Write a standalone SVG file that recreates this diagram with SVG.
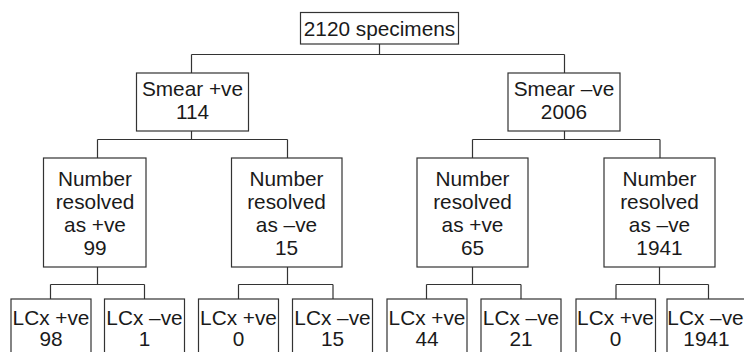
<svg xmlns="http://www.w3.org/2000/svg" width="744" height="352" viewBox="0 0 744 352">
<style>
.b{fill:#fff;stroke:#333;stroke-width:1.2}
.t{font-family:"Liberation Sans",Arial,sans-serif;font-size:20.8px;fill:#1a1a1a;text-anchor:middle}
.c{fill:none;stroke:#333;stroke-width:1.2}
</style>
<rect width="744" height="352" fill="#fff"/>
<g id="connectors" class="c">
<path d="M379.5 44V54.5M191.5 54.5H564.5M191.5 54.5V73M564.5 54.5V73"/>
<path d="M191.5 131V139.5M97.5 139.5H287.5M97.5 139.5V158M287.5 139.5V158"/>
<path d="M564.5 131V139.5M472.5 139.5H660M472.5 139.5V158M660 139.5V158"/>
<path d="M97.5 267V284.5M50.5 284.5H144.5M50.5 284.5V299M144.5 284.5V299"/>
<path d="M287.5 267V284.5M238.5 284.5H333M238.5 284.5V299M333 284.5V299"/>
<path d="M472.5 267V284.5M426.5 284.5H521M426.5 284.5V299M521 284.5V299"/>
<path d="M659.5 267V284.5M616 284.5H708.5M616 284.5V299M708.5 284.5V299"/>
</g>
<g id="root"><rect class="b" x="300.5" y="12.5" width="158" height="31.5"/><text class="t" x="379.5" y="36">2120 specimens</text></g>
<g id="smear-pos"><rect class="b" x="136.5" y="73" width="112" height="58"/><text class="t" x="192.5" y="96">Smear +ve</text><text class="t" x="192.5" y="119">114</text></g>
<g id="smear-neg"><rect class="b" x="508" y="73" width="112" height="58"/><text class="t" x="564" y="96">Smear –ve</text><text class="t" x="564" y="119">2006</text></g>
<g id="res1"><rect class="b" x="43.5" y="158" width="102.5" height="109"/><text class="t" x="95" y="186">Number</text><text class="t" x="95" y="209">resolved</text><text class="t" x="95" y="232">as +ve</text><text class="t" x="95" y="255">99</text></g>
<g id="res2"><rect class="b" x="231.5" y="158" width="110.5" height="109"/><text class="t" x="286.5" y="186">Number</text><text class="t" x="286.5" y="209">resolved</text><text class="t" x="286.5" y="232">as –ve</text><text class="t" x="286.5" y="255">15</text></g>
<g id="res3"><rect class="b" x="417" y="158" width="111" height="109"/><text class="t" x="472.5" y="186">Number</text><text class="t" x="472.5" y="209">resolved</text><text class="t" x="472.5" y="232">as +ve</text><text class="t" x="472.5" y="255">65</text></g>
<g id="res4"><rect class="b" x="604" y="158" width="111" height="109"/><text class="t" x="659.5" y="186">Number</text><text class="t" x="659.5" y="209">resolved</text><text class="t" x="659.5" y="232">as –ve</text><text class="t" x="659.5" y="255">1941</text></g>
<g id="l1"><rect class="b" x="11" y="299" width="80" height="60"/><text class="t" x="51" y="325">LCx +ve</text><text class="t" x="51" y="346">98</text></g>
<g id="l2"><rect class="b" x="104.5" y="299" width="80" height="60"/><text class="t" x="144.5" y="325">LCx –ve</text><text class="t" x="144.5" y="346">1</text></g>
<g id="l3"><rect class="b" x="198.5" y="299" width="80" height="60"/><text class="t" x="238.5" y="325">LCx +ve</text><text class="t" x="238.5" y="346">0</text></g>
<g id="l4"><rect class="b" x="292.5" y="299" width="80" height="60"/><text class="t" x="332.5" y="325">LCx –ve</text><text class="t" x="332.5" y="346">15</text></g>
<g id="l5"><rect class="b" x="387" y="299" width="80" height="60"/><text class="t" x="427" y="325">LCx +ve</text><text class="t" x="427" y="346">44</text></g>
<g id="l6"><rect class="b" x="481" y="299" width="80" height="60"/><text class="t" x="521" y="325">LCx –ve</text><text class="t" x="521" y="346">21</text></g>
<g id="l7"><rect class="b" x="576" y="299" width="79.5" height="60"/><text class="t" x="615.5" y="325">LCx +ve</text><text class="t" x="615.5" y="346">0</text></g>
<g id="l8"><rect class="b" x="667" y="299" width="82" height="60"/><text class="t" x="705.5" y="325">LCx –ve</text><text class="t" x="706.5" y="346">1941</text></g>
</svg>
